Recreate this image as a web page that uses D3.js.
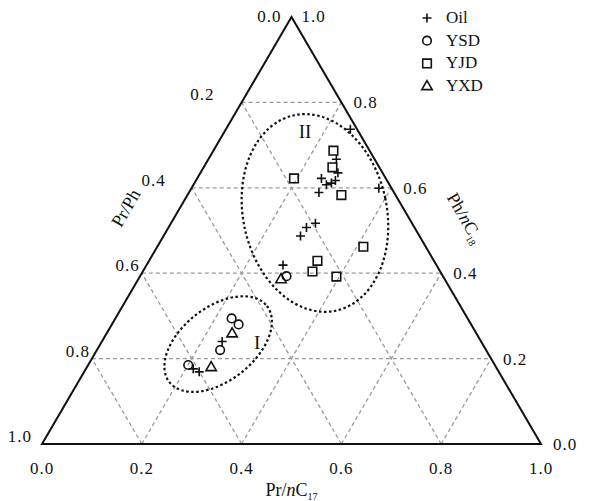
<!DOCTYPE html>
<html><head><meta charset="utf-8">
<script src="https://cdn.jsdelivr.net/npm/d3@7"></script>
<style>body{margin:0;background:#fff}svg{display:block}text{font-family:"Liberation Serif","Times New Roman",serif;fill:#111}.num{font-size:17px;letter-spacing:1px}</style>
</head><body>
<svg id="c" width="590" height="501"></svg>
<script>
// Data: [horizontal fraction along Pr/nC17 base, height fraction (Ph/nC18)]
const oil = [[0.618,0.737],[0.590,0.667],[0.593,0.635],[0.560,0.622],[0.570,0.607],[0.580,0.611],[0.588,0.617],[0.555,0.589],[0.675,0.599],[0.548,0.517],[0.530,0.507],[0.518,0.487],[0.483,0.419],[0.361,0.240],[0.303,0.176],[0.315,0.169]];
const ysd = [[0.490,0.393],[0.380,0.294],[0.394,0.280],[0.357,0.220],[0.293,0.185]];
const yjd = [[0.584,0.687],[0.582,0.648],[0.505,0.622],[0.600,0.583],[0.644,0.462],[0.552,0.429],[0.542,0.404],[0.590,0.392]];
const yxd = [[0.479,0.386],[0.381,0.259],[0.339,0.180]];
const ticks = [0, 0.2, 0.4, 0.6, 0.8, 1.0];
const bottomLabels = ["0.0","0.2","0.4","0.6","0.8","1.0"];
const leftLabels = ["1.0","0.8","0.6","0.4","0.2","0.0"];   // Pr/Ph at heights 0..1
const rightLabels = ["0.0","0.2","0.4","0.6","0.8","1.0"];  // Ph/nC18 at heights 0..1
const legendNames = ["Oil","YSD","YJD","YXD"];
// group ellipses: centre, radii (fractions), angle, label position
const groups = [{name:"I", c:[0.353,0.234], r:[0.124,0.086], a:-38, lab:[0.431,0.237]},
                {name:"II", c:[0.547,0.541], r:[0.144,0.234], a:-12, lab:[0.527,0.731]}];

const svg = d3.select("#c");
const x = d3.scaleLinear().domain([0,1]).range([42,541]);
const y = d3.scaleLinear().domain([0,1]).range([444,17]);
const P = (xf,h)=>[x(xf),y(h)];

// grid
const grid = svg.append("g").attr("stroke","#9a9a9a").attr("stroke-width",1.3).attr("stroke-dasharray","4,3").attr("fill","none");
[0.2,0.4,0.6,0.8].forEach(k=>{
  grid.append("line").attr("x1",x(k/2)).attr("y1",y(k)).attr("x2",x(1-k/2)).attr("y2",y(k));
  grid.append("line").attr("x1",x(k)).attr("y1",y(0)).attr("x2",x(1-(1-k)/2)).attr("y2",y(1-k));
  grid.append("line").attr("x1",x(k)).attr("y1",y(0)).attr("x2",x(k/2)).attr("y2",y(k));
});
// triangle
svg.append("path").attr("d",d3.line()([P(0,0),P(1,0),P(0.5,1)])+"Z").attr("fill","none").attr("stroke","#111").attr("stroke-width",2).attr("stroke-linejoin","miter");

// bottom labels
svg.append("g").selectAll("text").data(ticks).join("text").attr("class","num")
  .attr("x",d=>x(d)).attr("y",474).attr("text-anchor","middle").text((d,i)=>bottomLabels[i]);
// left labels
const leftGap = [10,2,2,26,27];
ticks.slice(0,5).forEach((h,i)=>{
  svg.append("text").attr("class","num").attr("x",x(h/2)-leftGap[i]).attr("y",y(h)-2).attr("text-anchor","end").text(leftLabels[i]);
});
ticks.slice(0,5).forEach((h,i)=>{
  svg.append("text").attr("class","num").attr("x",x(1-h/2)+12).attr("y",y(h)+6).attr("text-anchor","start").text(rightLabels[i]);
});
svg.append("text").attr("class","num").attr("x",x(0.5)-10).attr("y",y(1)+5).attr("text-anchor","end").text(leftLabels[5]);
svg.append("text").attr("class","num").attr("x",x(0.5)+10).attr("y",y(1)+5).attr("text-anchor","start").text(rightLabels[5]);

// axis titles
const bt = svg.append("text").attr("x",x(0.5)).attr("y",496).attr("text-anchor","middle").attr("font-size",18);
bt.append("tspan").text("Pr/");
bt.append("tspan").attr("font-style","italic").text("n");
bt.append("tspan").text("C");
bt.append("tspan").attr("font-size",10).attr("dy",4).text("17");
svg.append("text").attr("transform","translate(131,211) rotate(-60)").attr("text-anchor","middle").attr("font-size",18).text("Pr/Ph");
const rt = svg.append("text").attr("transform","translate(460,221) rotate(60)").attr("text-anchor","middle").attr("font-size",18);
rt.append("tspan").text("Ph/");
rt.append("tspan").attr("font-style","italic").text("n");
rt.append("tspan").text("C");
rt.append("tspan").attr("font-size",10).attr("dy",4).text("18");

// ellipses
groups.forEach(g=>{
  const [cx,cy] = P(g.c[0],g.c[1]);
  const rx = x(g.r[0])-x(0), ry = y(0)-y(g.r[1]);
  svg.append("ellipse").attr("cx",0).attr("cy",0).attr("rx",rx).attr("ry",ry)
    .attr("transform",`translate(${cx},${cy}) rotate(${g.a})`)
    .attr("fill","none").attr("stroke","#111").attr("stroke-width",2.2).attr("stroke-dasharray","2.5,2.5");
  svg.append("text").attr("x",x(g.lab[0])).attr("y",y(g.lab[1])+6).attr("text-anchor","middle").attr("font-size",19).text(g.name);
});

// symbols
const sym = {
  plus: "M-4.5,0H4.5M0,-4.5V4.5",
  circle: "M4.3,0A4.3,4.3 0 1,1 -4.3,0A4.3,4.3 0 1,1 4.3,0Z",
  square: "M-4.3,-4.3H4.3V4.3H-4.3Z",
  tri: "M0,-5.5L5.2,3.5H-5.2Z"
};
const series = [[oil,"plus"],[ysd,"circle"],[yjd,"square"],[yxd,"tri"]];
const mk = svg.append("g").attr("fill","none").attr("stroke","#111").attr("stroke-width",1.6);
series.forEach(([data,s])=>{
  mk.selectAll(null).data(data).join("path").attr("d",sym[s])
    .attr("transform",d=>`translate(${x(d[0])},${y(d[1])})`);
});
// legend
const lg = svg.append("g");
series.forEach(([d,s],i)=>{
  const yy = 18 + i*22.7;
  lg.append("path").attr("d",sym[s]).attr("transform",`translate(427,${yy})`).attr("fill","none").attr("stroke","#111").attr("stroke-width",1.6);
  lg.append("text").attr("x",446).attr("y",yy+5).attr("font-size",17).text(legendNames[i]);
});
</script>
</body></html>
